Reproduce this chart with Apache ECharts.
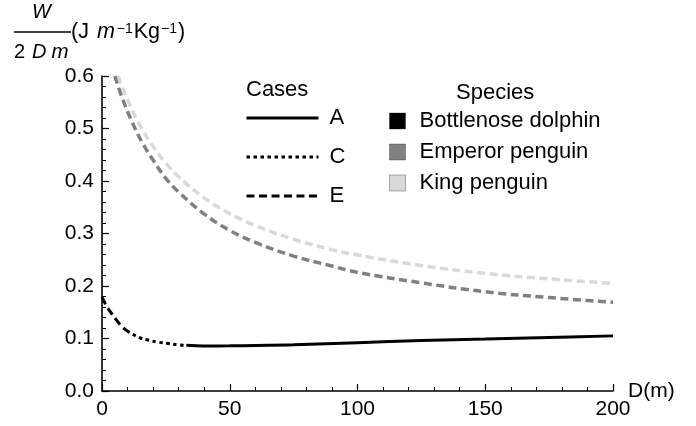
<!DOCTYPE html>
<html>
<head>
<meta charset="utf-8">
<script src="https://cdn.jsdelivr.net/npm/echarts@6/dist/echarts.min.js"></script>
<style>
  html, body { margin: 0; padding: 0; background: #fff; }
  #main { width: 696px; height: 426px; }
</style>
</head>
<body>
<div id="main"></div>
<script>
// data (x = depth D in m, y = W/(2Dm))
var xTicks = [0, 50, 100, 150, 200];
var yTicks = [0.0, 0.1, 0.2, 0.3, 0.4, 0.5, 0.6];

var caseNames = ['A', 'C', 'E'];
var speciesNames = ['Bottlenose dolphin', 'Emperor penguin', 'King penguin'];

// bottlenose dolphin, split by case
var dolphinE = [[0, 0.179], [2, 0.160], [4, 0.146], [6, 0.133], [8, 0.122], [10, 0.114], [12, 0.108]];
var dolphinC = [[12, 0.108], [15, 0.101], [18, 0.097], [22, 0.093], [26, 0.0905], [30, 0.088], [33, 0.087]];
var dolphinA = [[33, 0.087], [40, 0.0858], [50, 0.086], [60, 0.0868], [75, 0.088], [100, 0.092],
                [125, 0.096], [150, 0.099], [175, 0.102], [200, 0.105]];

var emperor = [[5, 0.6], [8, 0.557], [12, 0.51], [16, 0.471], [20, 0.44], [25, 0.405], [30, 0.379],
               [40, 0.337], [50, 0.306], [60, 0.283], [75, 0.257], [90, 0.238], [100, 0.226],
               [125, 0.206], [150, 0.189], [175, 0.178], [200, 0.169]];
var king = [[6.3, 0.6], [8, 0.578], [12, 0.533], [16, 0.496], [20, 0.466], [25, 0.434], [30, 0.408],
            [40, 0.368], [50, 0.338], [60, 0.315], [75, 0.289], [90, 0.269], [100, 0.259],
            [125, 0.239], [150, 0.224], [175, 0.2135], [200, 0.205]];

var chart = echarts.init(document.getElementById('main'));

var font = 'Liberation Sans, Arial, sans-serif';

function axisCommon() {
  return {
    axisLine: { onZero: true, lineStyle: { color: '#000', width: 1.6 } },
    axisTick: { show: true, inside: true, length: 7, lineStyle: { color: '#000', width: 1.2 } },
    minorTick: { show: true, splitNumber: 5, length: 4, lineStyle: { color: '#000', width: 1 } },
    splitLine: { show: false },
    minorSplitLine: { show: false }
  };
}

function tok(size, italic, lh, extra) {
  return Object.assign({
    fontFamily: font, fontSize: size, fontWeight: 'normal',
    fontStyle: italic ? 'italic' : 'normal', lineHeight: lh, color: '#000'
  }, extra || {});
}

var option = {
  animation: false,
  backgroundColor: '#fff',
  textStyle: { fontFamily: font, color: '#000' },
  title: [
    {
      left: 14, top: 3, padding: 0,
      text: '{n|W}\n{bar| }{u|(J }{i|m}{s|\u22121}{u|Kg}{s|\u22121}{u|)}\n{d|2}{dD|D}{dm|m}',
      textStyle: {
        fontWeight: 'normal',
        rich: {
          n: tok(20, true, 19, { padding: [0, 0, 0, 18] }),
          bar: { width: 57, height: 1.5, backgroundColor: '#000', lineHeight: 19 },
          u: tok(21.5, false, 20),
          i: tok(21.5, true, 20, { padding: [0, 1, 0, 2] }),
          s: tok(14, false, 14, { verticalAlign: 'top', padding: [0, 1, 0, 1] }),
          d: tok(20, false, 21),
          dD: tok(20, true, 21, { padding: [0, 0, 0, 7] }),
          dm: tok(20.5, true, 21, { padding: [0, 0, 0, 5] })
        }
      }
    },
    { text: 'Cases', left: 246, top: 79, padding: 0,
      textStyle: { fontFamily: font, fontSize: 22, fontWeight: 'normal', color: '#000' } },
    { text: 'Species', left: 456, top: 82, padding: 0,
      textStyle: { fontFamily: font, fontSize: 22, fontWeight: 'normal', color: '#000' } }
  ],
  legend: [
    {
      data: caseNames,
      orient: 'vertical', left: 245, top: 107, padding: 0,
      itemWidth: 72, itemHeight: 14, itemGap: 17,
      selectedMode: false,
      itemStyle: { opacity: 0 },
      lineStyle: { width: 3 },
      textStyle: { fontFamily: font, fontSize: 22, lineHeight: 22, color: '#000', padding: [0, 0, 0, 6] }
    },
    {
      data: speciesNames,
      orient: 'vertical', left: 389, top: 110, padding: 0,
      icon: 'rect', itemWidth: 16, itemHeight: 16, itemGap: 9,
      selectedMode: false,
      itemStyle: { borderColor: 'rgba(0,0,0,0.3)', borderWidth: 1 },
      textStyle: { fontFamily: font, fontSize: 22, lineHeight: 22, color: '#000', padding: [0, 0, 0, 9] }
    }
  ],
  grid: { left: 102, right: 83, top: 76, bottom: 35 },
  xAxis: Object.assign(axisCommon(), {
    type: 'value', min: xTicks[0], max: xTicks[xTicks.length - 1], interval: 50,
    name: 'D(m)', nameLocation: 'end', nameGap: 15, nameMoveOverlap: false,
    nameTextStyle: { fontFamily: font, fontSize: 21, color: '#000', verticalAlign: 'middle' },
    axisLabel: { fontFamily: font, fontSize: 21, color: '#000', margin: 8 }
  }),
  yAxis: Object.assign(axisCommon(), {
    type: 'value', min: yTicks[0], max: yTicks[yTicks.length - 1], interval: 0.1,
    axisLabel: { fontFamily: font, fontSize: 21, color: '#000', margin: 8,
      formatter: function (v) { return v.toFixed(1); } }
  }),
  series: [
    { name: 'King penguin', type: 'line', data: king, symbol: 'none', smooth: 0.4,
      color: '#d9d9d9', lineStyle: { color: '#d9d9d9', width: 3.5, type: [8, 4.5] } },
    { name: 'Emperor penguin', type: 'line', data: emperor, symbol: 'none', smooth: 0.4,
      color: '#808080', lineStyle: { color: '#808080', width: 3.5, type: [8, 4.5] } },
    { name: 'E', type: 'line', data: dolphinE, symbol: 'none', smooth: 0.4,
      color: '#000', lineStyle: { color: '#000', width: 3, type: [8, 4.5] } },
    { name: 'C', type: 'line', data: dolphinC, symbol: 'none', smooth: 0.4,
      color: '#000', lineStyle: { color: '#000', width: 3, type: [3.5, 3.5] } },
    { name: 'A', type: 'line', data: dolphinA, symbol: 'none', smooth: 0.4,
      color: '#000', lineStyle: { color: '#000', width: 3, type: 'solid' } },
    { name: 'Bottlenose dolphin', type: 'line', data: [], symbol: 'none', color: '#000' }
  ]
};

chart.setOption(option);
</script>
</body>
</html>
